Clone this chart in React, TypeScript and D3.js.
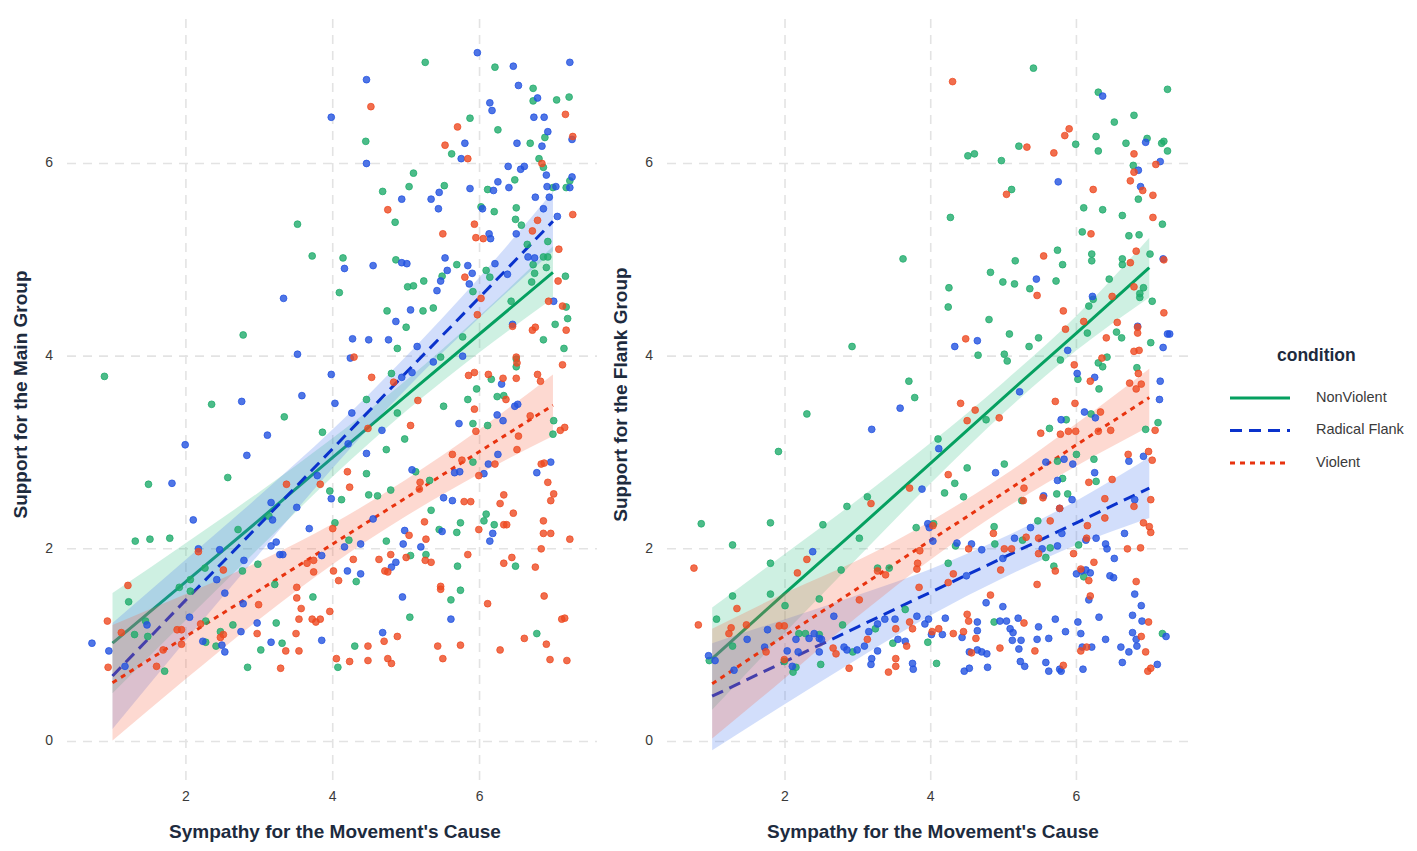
import { useEffect, useRef } from 'react';
import * as d3 from 'd3';

const WIDTH = 1417;
const HEIGHT = 851;
const FONT = '"Liberation Sans", Arial, Helvetica, sans-serif';

const CONDITIONS = ['NonViolent', 'Radical Flank', 'Violent'];
const LINE_COLORS: Record<string, string> = {
  NonViolent: '#05a060',
  'Radical Flank': '#0a32cc',
  Violent: '#e8330f',
};
const POINT_COLORS: Record<string, string> = {
  NonViolent: '#1fab6c',
  'Radical Flank': '#2352e0',
  Violent: '#ee4a22',
};
const RIBBON_COLORS: Record<string, string> = {
  NonViolent: '#3cc48a',
  'Radical Flank': '#4a7af0',
  Violent: '#f86848',
};
const DASHES: Record<string, string | null> = {
  NonViolent: null,
  'Radical Flank': '12,7',
  Violent: '5,5',
};

const X_TICKS = [2, 4, 6];
const Y_TICKS = [0, 2, 4, 6];
const X_TITLE = "Sympathy for the Movement's Cause";

// x positions where the fitted lines and bands are read
const FIT_X = [1, 2, 3, 4, 5, 6, 7];

// ---- Support for the Main Group ----
const MAIN_NV_FIT = [1.02, 1.66, 2.3, 2.95, 3.59, 4.23, 4.87];
const MAIN_NV_LO = [0.5, 1.26, 2.01, 2.75, 3.43, 4.04, 4.6];
const MAIN_NV_HI = [1.54, 2.06, 2.59, 3.15, 3.75, 4.42, 5.14];
const MAIN_RF_FIT = [0.68, 1.47, 2.25, 3.04, 3.83, 4.61, 5.4];
const MAIN_RF_LO = [0.13, 1.05, 1.95, 2.84, 3.66, 4.4, 5.09];
const MAIN_RF_HI = [1.23, 1.89, 2.55, 3.24, 4.0, 4.82, 5.71];
const MAIN_V_FIT = [0.61, 1.09, 1.57, 2.05, 2.53, 3.01, 3.49];
const MAIN_V_LO = [0.01, 0.65, 1.27, 1.84, 2.34, 2.78, 3.17];
const MAIN_V_HI = [1.21, 1.53, 1.87, 2.26, 2.72, 3.24, 3.81];

const MAIN_NV_POINTS: [number, number][] = [
  [5.26, 7.05], [6.21, 7.0], [6.73, 6.78], [6.73, 6.65], [7.05, 6.66], [7.22, 6.69], [5.87, 6.47], [6.25, 6.35],
  [6.89, 6.27], [4.45, 6.23], [6.69, 6.21], [5.62, 6.1], [6.81, 6.05], [6.87, 5.96], [5.1, 5.9], [6.48, 5.83],
  [7.23, 5.82], [5.52, 5.77], [6.11, 5.73], [7.0, 5.75], [7.18, 5.75], [5.04, 5.76], [4.68, 5.71], [6.02, 5.55],
  [6.2, 5.5], [6.5, 5.54], [4.85, 5.39], [6.49, 5.42], [6.57, 5.36], [6.65, 5.16], [6.93, 5.19], [3.52, 5.37],
  [3.72, 5.04], [4.14, 5.02], [4.86, 5.0], [6.87, 5.03], [6.93, 5.03], [5.69, 4.95], [6.73, 4.95], [6.91, 4.92],
  [5.49, 4.83], [6.09, 4.89], [6.14, 4.82], [6.75, 4.86], [6.71, 4.77], [7.17, 4.83], [5.24, 4.78], [5.02, 4.72],
  [5.1, 4.73], [4.09, 4.66], [5.91, 4.67], [6.43, 4.57], [7.18, 4.51], [4.74, 4.47], [5.23, 4.47], [5.37, 4.5],
  [5.0, 4.3], [7.2, 4.39], [7.03, 4.33], [6.87, 4.17], [4.88, 4.08], [2.78, 4.22], [5.77, 4.2], [7.15, 4.08],
  [5.47, 3.99], [6.5, 3.97], [6.5, 3.89], [0.89, 3.79], [4.8, 3.82], [6.16, 3.76], [5.96, 3.66], [2.35, 3.5],
  [3.34, 3.37], [4.46, 3.55], [5.84, 3.55], [5.51, 3.48], [6.24, 3.58], [6.33, 3.59], [7.01, 3.33], [5.91, 3.3],
  [6.11, 3.28], [4.88, 3.41], [7.0, 3.19], [4.98, 3.14], [4.73, 3.03], [3.86, 3.21], [2.57, 2.74], [1.49, 2.67],
  [4.46, 2.78], [3.96, 2.6], [4.12, 2.51], [4.49, 2.56], [4.61, 2.55], [4.79, 2.61], [5.91, 2.9], [5.13, 2.8],
  [5.32, 2.71], [5.34, 2.4], [5.45, 2.2], [5.74, 2.27], [5.69, 2.17], [6.09, 2.36], [6.06, 2.29], [6.2, 2.25],
  [5.06, 1.93], [5.27, 1.94], [5.7, 1.82], [6.49, 1.82], [5.74, 1.57], [5.61, 1.47], [5.05, 1.29], [6.78, 1.12],
  [4.3, 0.99], [4.07, 0.77], [3.73, 1.5], [3.31, 1.02], [3.23, 1.23], [3.02, 0.95], [2.84, 0.77], [2.64, 1.21],
  [2.77, 1.77], [2.98, 1.84], [2.26, 1.8], [2.27, 1.25], [2.27, 1.03], [1.91, 1.6], [2.06, 1.68], [2.06, 1.56],
  [1.31, 2.08], [1.51, 2.1], [1.78, 2.11], [2.71, 2.2], [3.13, 2.34], [3.21, 1.63], [4.03, 2.27], [4.22, 2.09],
  [4.32, 1.66], [4.73, 2.08], [1.45, 1.25], [1.48, 1.09], [1.3, 1.11], [1.22, 1.45], [1.71, 0.73], [2.47, 1.14],
  [2.41, 0.99],
];
const MAIN_RF_POINTS: [number, number][] = [
  [5.97, 7.15], [6.46, 7.01], [7.23, 7.05], [4.46, 6.87], [6.53, 6.81], [6.79, 6.68], [6.14, 6.63], [6.17, 6.55],
  [3.98, 6.48], [6.74, 6.48], [6.88, 6.48], [6.93, 6.33], [7.26, 6.25], [5.8, 6.21], [6.51, 6.21], [6.85, 6.18],
  [5.75, 6.05], [4.46, 6.0], [6.39, 5.97], [6.56, 5.94], [6.61, 5.97], [6.91, 5.88], [7.26, 5.86], [6.25, 5.81],
  [6.19, 5.72], [5.87, 5.74], [6.4, 5.75], [6.92, 5.76], [7.04, 5.76], [7.23, 5.75], [4.94, 5.63], [5.45, 5.7],
  [5.34, 5.63], [6.76, 5.65], [6.95, 5.65], [5.44, 5.53], [6.04, 5.53], [6.87, 5.53], [7.06, 5.45], [6.5, 5.27],
  [6.13, 5.27], [6.15, 5.22], [4.16, 4.91], [4.55, 4.94], [4.94, 4.97], [5.01, 4.96], [5.53, 5.02], [6.66, 5.03],
  [6.75, 5.02], [5.84, 4.94], [6.21, 4.96], [5.56, 4.89], [5.9, 4.86], [6.38, 4.85], [5.47, 4.78], [5.86, 4.75],
  [3.33, 4.6], [5.42, 4.68], [7.01, 4.57], [5.06, 4.48], [4.86, 4.36], [6.45, 4.33], [4.27, 4.18], [4.49, 4.17],
  [4.76, 4.17], [4.24, 3.98], [3.52, 4.02], [5.15, 4.1], [5.77, 4.0], [5.37, 3.94], [3.98, 3.81], [4.94, 3.78],
  [5.08, 3.83], [6.3, 3.71], [2.76, 3.53], [3.58, 3.59], [4.03, 3.51], [6.52, 3.5], [6.48, 3.48], [6.24, 3.39],
  [6.32, 3.33], [5.72, 3.3], [4.26, 3.41], [4.67, 3.23], [3.11, 3.18], [1.99, 3.08], [2.83, 2.97], [4.21, 3.09],
  [4.46, 2.99], [1.81, 2.68], [3.79, 2.76], [3.98, 2.52], [6.06, 2.78], [6.12, 2.88], [6.25, 2.98], [6.97, 2.9],
  [6.78, 2.79], [5.08, 2.82], [5.66, 2.79], [5.73, 2.8], [5.51, 2.53], [5.63, 2.5], [5.49, 2.18], [6.18, 2.16],
  [6.14, 2.08], [4.96, 2.05], [4.98, 2.19], [5.2, 2.02], [4.95, 1.5], [5.61, 1.27], [4.68, 1.13], [3.85, 1.05],
  [3.16, 1.03], [2.97, 1.23], [2.75, 1.14], [2.78, 1.43], [2.79, 1.88], [2.53, 1.54], [2.42, 1.68], [2.46, 1.99],
  [2.17, 2.0], [2.23, 1.04], [2.05, 1.29], [2.1, 2.3], [3.16, 2.48], [3.18, 2.3], [3.16, 2.03], [3.23, 2.07],
  [3.28, 1.94], [3.32, 1.94], [3.51, 2.43], [3.68, 2.21], [3.85, 1.93], [4.16, 2.02], [4.2, 1.77], [4.38, 1.74],
  [4.38, 2.05], [4.8, 1.81], [4.86, 1.86], [4.55, 2.31], [1.47, 1.21], [0.72, 1.02], [0.95, 0.94], [1.17, 0.78],
  [2.49, 1.0], [2.53, 0.93],
];
const MAIN_V_POINTS: [number, number][] = [
  [4.52, 6.59], [5.7, 6.38], [7.17, 6.51], [7.27, 6.28], [5.53, 6.19], [5.84, 6.05], [6.85, 6.0], [4.75, 5.52],
  [7.27, 5.47], [5.93, 5.37], [6.79, 5.41], [6.72, 5.3], [5.5, 5.27], [5.95, 5.23], [6.05, 5.22], [7.08, 5.11],
  [5.8, 4.82], [7.07, 4.78], [6.02, 4.6], [6.94, 4.57], [7.13, 4.52], [5.97, 4.43], [6.45, 4.31], [6.72, 4.27],
  [6.76, 4.3], [7.18, 4.27], [4.29, 3.99], [7.13, 3.91], [6.5, 3.99], [6.51, 3.93], [4.53, 3.78], [4.83, 3.73],
  [5.85, 3.8], [5.93, 3.83], [6.12, 3.81], [6.32, 3.77], [6.5, 3.77], [6.79, 3.81], [6.83, 3.74], [5.16, 3.54],
  [6.36, 3.55], [5.93, 3.45], [6.69, 3.38], [5.06, 3.28], [7.16, 3.26], [5.95, 3.22], [7.1, 3.23], [4.48, 3.25],
  [3.37, 2.67], [3.83, 2.67], [4.2, 2.8], [4.23, 2.64], [5.63, 2.98], [5.76, 2.92], [5.99, 2.76], [6.21, 2.88],
  [6.51, 3.03], [6.53, 3.17], [6.84, 2.88], [6.88, 2.89], [6.93, 2.69], [7.01, 2.57], [6.97, 2.5], [5.19, 2.69],
  [5.18, 2.62], [5.79, 2.49], [5.88, 2.49], [5.25, 2.28], [5.99, 2.2], [6.33, 2.25], [6.37, 2.25], [6.46, 2.37],
  [6.28, 2.47], [6.33, 2.56], [6.87, 2.29], [6.87, 2.16], [6.97, 2.16], [7.23, 2.1], [5.04, 2.14], [5.27, 2.1],
  [5.26, 1.88], [5.34, 1.86], [5.0, 1.91], [5.84, 1.94], [6.33, 1.85], [6.44, 1.91], [6.76, 1.81], [6.84, 2.0],
  [5.47, 1.61], [5.47, 1.58], [6.11, 1.43], [6.88, 1.51], [7.12, 1.27], [7.16, 1.28], [6.61, 1.07], [6.91, 1.01],
  [6.28, 0.95], [5.74, 1.0], [5.43, 0.99], [5.5, 0.86], [6.96, 0.85], [7.19, 0.84], [4.7, 1.04], [4.88, 1.09],
  [4.75, 0.86], [4.8, 0.81], [4.48, 0.99], [4.48, 0.84], [4.23, 0.83], [4.05, 0.86], [3.83, 1.27], [3.72, 1.27],
  [3.77, 1.24], [3.54, 1.27], [3.57, 1.38], [3.51, 1.49], [3.51, 1.6], [3.96, 1.35], [3.5, 1.12], [3.54, 0.94],
  [3.36, 0.94], [3.29, 0.76], [2.97, 1.12], [2.99, 1.42], [2.51, 1.78], [2.17, 1.97], [2.2, 1.22], [1.94, 1.16],
  [1.88, 1.16], [1.94, 1.01], [3.65, 1.85], [3.74, 1.88], [3.74, 1.76], [4.0, 2.21], [4.28, 1.89], [4.08, 1.67],
  [4.01, 1.77], [4.63, 1.89], [4.79, 1.94], [4.71, 1.77], [4.75, 1.76], [1.12, 1.13], [1.21, 1.62], [0.93, 1.25],
  [0.94, 0.77], [1.6, 0.78], [1.69, 0.95], [2.47, 1.08], [2.51, 1.11],
];

// ---- Support for the Flank Group ----
const FLANK_NV_FIT = [0.86, 1.54, 2.21, 2.89, 3.57, 4.24, 4.92];
const FLANK_NV_LO = [0.33, 1.13, 1.91, 2.68, 3.41, 4.06, 4.61];
const FLANK_NV_HI = [1.39, 1.95, 2.51, 3.1, 3.73, 4.42, 5.23];
const FLANK_RF_FIT = [0.47, 0.83, 1.19, 1.55, 1.91, 2.27, 2.63];
const FLANK_RF_LO = [-0.09, 0.39, 0.86, 1.31, 1.7, 2.04, 2.32];
const FLANK_RF_HI = [1.02, 1.27, 1.52, 1.79, 2.12, 2.5, 2.95];
const FLANK_V_FIT = [0.6, 1.1, 1.59, 2.09, 2.58, 3.08, 3.57];
const FLANK_V_LO = [0.03, 0.66, 1.3, 1.89, 2.41, 2.86, 3.27];
const FLANK_V_HI = [1.17, 1.54, 1.88, 2.29, 2.76, 3.3, 3.87];

const FLANK_NV_POINTS: [number, number][] = [
  [5.41, 6.99], [6.3, 6.74], [7.25, 6.77], [6.52, 6.43], [6.79, 6.5], [6.27, 6.28], [6.3, 6.13], [6.68, 6.21],
  [6.97, 6.26], [7.17, 6.21], [7.2, 6.23], [7.25, 6.13], [5.21, 6.18], [5.99, 6.2], [4.51, 6.08], [4.6, 6.1],
  [4.97, 6.03], [6.78, 5.98], [6.85, 5.63], [5.11, 5.73], [6.1, 5.54], [6.36, 5.52], [6.63, 5.46], [7.18, 5.37],
  [4.27, 5.44], [6.08, 5.29], [6.72, 5.25], [6.86, 5.26], [7.01, 5.06], [5.74, 5.1], [6.21, 5.06], [6.21, 4.99],
  [5.16, 4.99], [5.81, 4.95], [6.63, 5.01], [6.63, 4.95], [3.62, 5.01], [4.82, 4.87], [4.99, 4.77], [5.15, 4.75],
  [5.36, 4.7], [5.72, 4.78], [4.25, 4.71], [6.45, 4.8], [6.92, 4.71], [6.87, 4.65], [6.87, 4.61], [7.04, 4.57],
  [6.23, 4.59], [6.17, 4.52], [4.24, 4.51], [4.8, 4.38], [6.55, 4.25], [6.15, 4.24], [5.08, 4.23], [5.48, 4.19],
  [6.62, 4.19], [7.02, 4.14], [2.92, 4.1], [4.65, 4.01], [5.01, 4.02], [5.05, 3.95], [5.35, 4.1], [5.78, 3.96],
  [6.42, 3.99], [6.3, 3.93], [6.36, 3.89], [6.02, 3.76], [6.83, 3.88], [6.31, 3.66], [3.7, 3.74], [3.78, 3.57],
  [2.3, 3.4], [4.76, 3.34], [5.86, 3.34], [6.2, 3.4], [7.12, 3.31], [5.63, 3.25], [6.95, 3.24], [1.91, 3.01],
  [4.1, 3.14], [4.33, 2.68], [4.5, 2.84], [5.01, 2.88], [4.19, 2.58], [4.45, 2.54], [2.85, 2.44], [3.13, 2.54],
  [3.02, 2.11], [2.52, 2.25], [0.85, 2.26], [1.8, 2.27], [1.28, 2.04], [1.8, 1.85], [1.8, 1.53], [1.28, 1.51],
  [1.06, 1.27], [1.28, 0.99], [0.96, 0.84], [1.99, 0.83], [2.11, 0.72], [2.15, 0.77], [2.19, 1.12], [2.28, 1.12],
  [2.47, 1.11], [2.49, 0.8], [2.47, 1.48], [2.0, 1.41], [2.77, 1.78], [2.79, 1.21], [2.93, 0.93], [3.24, 1.17],
  [3.48, 1.02], [3.65, 1.37], [3.27, 1.8], [3.43, 1.8], [3.8, 2.22], [4.04, 2.26], [3.96, 1.03], [4.08, 0.81],
  [4.24, 1.85], [4.34, 2.03], [4.87, 2.23], [4.88, 2.05], [5.25, 2.5], [5.26, 2.09], [5.47, 2.29], [5.58, 1.91],
  [5.64, 2.01], [5.69, 1.82], [5.73, 2.57], [5.74, 2.91], [5.81, 2.73], [6.0, 2.98], [5.88, 2.57], [6.03, 2.04],
  [6.1, 1.71], [6.27, 2.7], [6.24, 2.93], [7.18, 1.12], [4.87, 1.24],
];
const FLANK_RF_POINTS: [number, number][] = [
  [6.36, 6.7], [6.95, 6.22], [6.85, 5.93], [7.15, 6.02], [5.75, 5.81], [6.88, 5.76], [7.19, 5.01], [5.45, 4.8],
  [6.22, 4.62], [6.84, 4.31], [4.64, 4.16], [7.25, 4.23], [7.28, 4.23], [7.19, 4.09], [4.33, 4.1], [5.88, 4.06],
  [6.01, 3.82], [6.25, 3.78], [7.15, 3.74], [3.58, 3.46], [7.14, 3.55], [5.22, 3.63], [5.79, 3.34], [6.11, 3.42],
  [6.26, 3.36], [3.19, 3.24], [4.11, 3.04], [4.89, 2.79], [3.88, 2.62], [1.48, 1.06], [0.95, 0.89], [1.04, 0.84],
  [1.3, 0.74], [1.76, 1.16], [1.72, 0.98], [2.03, 0.94], [2.1, 0.78], [2.18, 0.93], [2.15, 1.06], [2.33, 1.07],
  [2.4, 1.12], [2.47, 1.07], [2.5, 1.06], [2.47, 0.93], [2.38, 1.97], [2.67, 1.3], [2.81, 0.98], [2.85, 0.95],
  [2.99, 0.95], [3.09, 0.99], [3.15, 1.14], [3.19, 0.86], [3.18, 0.8], [3.27, 1.22], [3.27, 0.94], [3.37, 1.27],
  [3.51, 1.27], [3.55, 1.06], [3.65, 1.04], [3.75, 0.81], [3.76, 0.75], [3.81, 1.3], [3.96, 2.26], [4.03, 2.08],
  [3.98, 2.22], [4.01, 1.11], [3.97, 1.27], [3.92, 1.22], [4.16, 1.11], [4.2, 1.28], [4.36, 2.06], [4.56, 2.05],
  [4.49, 1.72], [4.64, 1.24], [4.64, 1.15], [4.43, 1.08], [4.53, 0.93], [4.64, 0.95], [4.7, 0.93], [4.77, 0.91],
  [4.46, 0.73], [4.53, 0.76], [4.78, 0.77], [4.7, 1.99], [4.76, 1.44], [4.99, 1.4], [4.99, 1.9], [5.15, 2.11],
  [5.37, 2.22], [5.53, 2.0], [5.74, 2.03], [5.55, 2.55], [5.77, 2.42], [5.8, 2.16], [5.58, 2.9], [5.74, 2.71],
  [5.83, 2.93], [5.95, 2.88], [5.94, 2.51], [6.0, 1.74], [6.07, 1.77], [6.13, 1.78], [6.19, 1.75], [6.25, 2.79],
  [6.13, 2.09], [6.27, 2.11], [6.4, 2.05], [6.42, 2.0], [6.52, 1.9], [6.46, 1.72], [6.51, 1.7], [6.17, 1.47],
  [6.31, 1.29], [6.66, 2.16], [6.8, 2.51], [6.72, 2.91], [6.92, 2.96], [6.8, 1.53], [6.89, 1.41], [6.77, 1.31],
  [6.9, 1.25], [6.77, 1.13], [6.82, 1.06], [6.83, 0.99], [6.72, 0.93], [6.61, 0.98], [6.63, 0.82], [7.11, 0.8],
  [7.23, 1.09], [6.4, 1.06], [6.08, 0.98], [6.21, 0.98], [6.06, 1.12], [6.02, 1.24], [6.09, 0.75], [5.85, 1.14],
  [5.71, 1.27], [5.62, 1.07], [5.48, 1.19], [5.46, 1.06], [5.58, 0.82], [5.62, 0.73], [5.77, 0.75], [5.79, 0.73],
  [5.2, 1.28], [5.24, 1.05], [5.13, 1.13], [5.09, 1.17], [5.21, 0.96], [5.23, 0.83], [5.29, 0.78], [5.12, 1.05],
  [4.95, 1.25], [5.04, 1.25],
];
const FLANK_V_POINTS: [number, number][] = [
  [4.3, 6.85], [5.9, 6.36], [5.84, 6.29], [5.32, 6.17], [5.69, 6.11], [6.79, 6.1], [6.79, 5.91], [7.09, 5.99],
  [6.74, 5.82], [6.91, 5.72], [7.05, 5.67], [5.04, 5.68], [6.23, 5.73], [7.05, 5.44], [6.2, 5.27], [6.82, 5.09],
  [5.55, 5.04], [6.74, 4.97], [7.2, 5.0], [5.46, 4.63], [6.79, 4.72], [6.49, 4.62], [5.82, 4.47], [7.2, 4.45],
  [6.1, 4.36], [6.56, 4.35], [6.84, 4.3], [6.84, 4.24], [5.85, 4.28], [4.48, 4.18], [6.41, 4.19], [6.86, 4.06],
  [6.79, 4.05], [6.35, 3.98], [5.97, 3.91], [6.85, 3.82], [6.19, 3.74], [6.73, 3.72], [6.89, 3.71], [6.82, 3.66],
  [4.41, 3.51], [4.61, 3.44], [5.71, 3.53], [5.98, 3.51], [4.94, 3.36], [4.5, 3.33], [6.33, 3.42], [5.51, 3.2],
  [5.78, 3.19], [5.89, 3.22], [5.99, 3.22], [6.3, 3.22], [6.47, 3.23], [7.08, 3.23], [4.24, 2.77], [3.71, 2.63],
  [3.18, 2.47], [0.75, 1.8], [1.34, 1.38], [0.81, 1.21], [1.26, 1.18], [1.23, 1.12], [1.47, 1.21], [1.92, 1.2],
  [1.99, 1.2], [1.74, 0.93], [1.99, 0.85], [2.3, 1.89], [2.17, 1.75], [3.02, 1.47], [2.66, 0.97], [2.7, 0.91],
  [2.88, 0.76], [3.13, 1.06], [3.52, 1.17], [3.67, 0.99], [3.52, 0.86], [3.52, 0.78], [3.42, 0.72], [3.71, 1.24],
  [3.75, 1.17], [3.27, 1.77], [3.38, 1.73], [3.81, 1.79], [3.82, 1.85], [3.84, 1.6], [3.85, 1.98], [4.03, 2.24],
  [4.02, 1.14], [4.11, 1.17], [4.31, 1.12], [4.24, 1.65], [4.31, 1.74], [4.52, 2.0], [4.5, 1.32], [4.52, 1.25],
  [4.45, 1.14], [4.62, 1.07], [4.56, 0.92], [4.86, 2.16], [4.82, 1.52], [4.96, 1.78], [5.01, 2.0], [5.11, 2.0],
  [5.27, 2.5], [5.28, 2.63], [5.31, 2.12], [5.48, 2.11], [5.48, 1.95], [5.64, 2.29], [5.71, 1.77], [5.46, 1.63],
  [5.54, 2.53], [5.77, 2.42], [5.96, 1.95], [6.06, 1.79], [6.17, 1.67], [6.17, 2.69], [6.49, 2.72], [6.39, 2.52],
  [6.39, 2.32], [6.15, 2.24], [6.14, 2.11], [6.24, 1.86], [6.19, 1.51], [6.7, 2.0], [6.88, 2.01], [7.0, 2.23],
  [7.02, 2.17], [6.92, 2.27], [7.02, 2.51], [6.79, 2.44], [6.71, 2.98], [6.99, 3.01], [7.04, 2.92], [6.82, 1.66],
  [6.99, 1.24], [6.89, 1.09], [6.95, 0.93], [6.98, 0.73], [7.02, 0.76], [6.14, 0.98], [6.06, 0.94], [5.43, 0.94],
  [5.82, 0.79], [5.28, 1.23], [4.95, 0.97],
];

interface Fit {
  fit: number[];
  lo: number[];
  hi: number[];
}

interface Panel {
  yTitle: string;
  left: number;
  right: number;
  fits: Record<string, Fit>;
  points: Record<string, [number, number][]>;
}

const PANELS: Panel[] = [
  {
    yTitle: 'Support for the Main Group',
    left: 67,
    right: 597,
    fits: {
      NonViolent: { fit: MAIN_NV_FIT, lo: MAIN_NV_LO, hi: MAIN_NV_HI },
      'Radical Flank': { fit: MAIN_RF_FIT, lo: MAIN_RF_LO, hi: MAIN_RF_HI },
      Violent: { fit: MAIN_V_FIT, lo: MAIN_V_LO, hi: MAIN_V_HI },
    },
    points: {
      NonViolent: MAIN_NV_POINTS,
      'Radical Flank': MAIN_RF_POINTS,
      Violent: MAIN_V_POINTS,
    },
  },
  {
    yTitle: 'Support for the Flank Group',
    left: 667,
    right: 1193,
    fits: {
      NonViolent: { fit: FLANK_NV_FIT, lo: FLANK_NV_LO, hi: FLANK_NV_HI },
      'Radical Flank': { fit: FLANK_RF_FIT, lo: FLANK_RF_LO, hi: FLANK_RF_HI },
      Violent: { fit: FLANK_V_FIT, lo: FLANK_V_LO, hi: FLANK_V_HI },
    },
    points: {
      NonViolent: FLANK_NV_POINTS,
      'Radical Flank': FLANK_RF_POINTS,
      Violent: FLANK_V_POINTS,
    },
  },
];

const PANEL_TOP = 19;
const PANEL_BOTTOM = 780;
const TEXT_DARK = '#1d2b3e';
const TICK_COLOR = '#3a3a3a';
const GRID_COLOR = '#e3e3e3';

export default function App() {
  const svgRef = useRef<SVGSVGElement>(null);

  useEffect(() => {
    document.body.style.margin = '0';
    if (!svgRef.current) return;

    const svg = d3.select(svgRef.current);
    svg.selectAll('*').remove();

    const yScale = d3.scaleLinear().domain([-0.4, 7.5]).range([PANEL_BOTTOM, PANEL_TOP]);

    PANELS.forEach(panel => {
      const xScale = d3.scaleLinear().domain([0.38, 7.6]).range([panel.left, panel.right]);
      const g = svg.append('g');

      // grid
      g.selectAll('.vgrid')
        .data(X_TICKS)
        .enter()
        .append('line')
        .attr('x1', (d: number) => xScale(d))
        .attr('x2', (d: number) => xScale(d))
        .attr('y1', PANEL_TOP)
        .attr('y2', PANEL_BOTTOM)
        .attr('stroke', GRID_COLOR)
        .attr('stroke-width', 1.6)
        .attr('stroke-dasharray', '9,7');
      g.selectAll('.hgrid')
        .data(Y_TICKS)
        .enter()
        .append('line')
        .attr('x1', panel.left)
        .attr('x2', panel.right)
        .attr('y1', (d: number) => yScale(d))
        .attr('y2', (d: number) => yScale(d))
        .attr('stroke', GRID_COLOR)
        .attr('stroke-width', 1.6)
        .attr('stroke-dasharray', '9,7');

      // tick labels
      g.selectAll('.xtick')
        .data(X_TICKS)
        .enter()
        .append('text')
        .attr('x', (d: number) => xScale(d))
        .attr('y', 797)
        .attr('text-anchor', 'middle')
        .attr('dominant-baseline', 'middle')
        .attr('font-size', '14px')
        .attr('fill', TICK_COLOR)
        .text((d: number) => d);
      g.selectAll('.ytick')
        .data(Y_TICKS)
        .enter()
        .append('text')
        .attr('x', panel.left - 14)
        .attr('y', (d: number) => yScale(d))
        .attr('text-anchor', 'end')
        .attr('dominant-baseline', 'middle')
        .attr('font-size', '14px')
        .attr('fill', TICK_COLOR)
        .text((d: number) => d);

      // smooths: ribbon then line, per condition
      CONDITIONS.forEach(cond => {
        const f = panel.fits[cond];
        const band = d3
          .area<number>()
          .x((d: number) => xScale(d))
          .y0((_d: number, i: number) => yScale(f.lo[i]))
          .y1((_d: number, i: number) => yScale(f.hi[i]))
          .curve(d3.curveMonotoneX);
        g.append('path')
          .attr('d', band(FIT_X))
          .attr('fill', RIBBON_COLORS[cond])
          .attr('fill-opacity', 0.25);

        const line = d3
          .line<number>()
          .x((d: number) => xScale(d))
          .y((_d: number, i: number) => yScale(f.fit[i]));
        const path = g
          .append('path')
          .attr('d', line(FIT_X))
          .attr('fill', 'none')
          .attr('stroke', LINE_COLORS[cond])
          .attr('stroke-width', 3);
        if (DASHES[cond]) path.attr('stroke-dasharray', DASHES[cond]);
      });

      // points
      CONDITIONS.forEach(cond => {
        g.selectAll(null)
          .data(panel.points[cond])
          .enter()
          .append('circle')
          .attr('cx', (d: [number, number]) => xScale(d[0]))
          .attr('cy', (d: [number, number]) => yScale(d[1]))
          .attr('r', 3.4)
          .attr('fill', POINT_COLORS[cond])
          .attr('fill-opacity', 0.8)
          .attr('stroke', POINT_COLORS[cond])
          .attr('stroke-opacity', 0.95)
          .attr('stroke-width', 0.8);
      });

      // axis titles
      const midX = (panel.left + panel.right) / 2;
      g.append('text')
        .attr('x', midX + 3)
        .attr('y', 833)
        .attr('text-anchor', 'middle')
        .attr('dominant-baseline', 'middle')
        .attr('font-size', '19px')
        .attr('font-weight', 'bold')
        .attr('fill', TEXT_DARK)
        .text(X_TITLE);
      const midY = (PANEL_TOP + PANEL_BOTTOM) / 2 - 5;
      g.append('text')
        .attr('transform', `translate(${panel.left - 45}, ${midY}) rotate(-90)`)
        .attr('text-anchor', 'middle')
        .attr('dominant-baseline', 'middle')
        .attr('font-size', '19px')
        .attr('font-weight', 'bold')
        .attr('fill', TEXT_DARK)
        .text(panel.yTitle);
    });

    // legend
    const legend = svg.append('g');
    legend
      .append('text')
      .attr('x', 1277)
      .attr('y', 356)
      .attr('dominant-baseline', 'middle')
      .attr('font-size', '17.5px')
      .attr('font-weight', 'bold')
      .attr('fill', TEXT_DARK)
      .text('condition');
    const items = legend
      .selectAll('.item')
      .data(CONDITIONS)
      .enter()
      .append('g')
      .attr('transform', (_d: string, i: number) => `translate(0, ${398 + i * 32.5})`);
    items
      .append('line')
      .attr('x1', 1230)
      .attr('x2', 1290)
      .attr('stroke', (d: string) => LINE_COLORS[d])
      .attr('stroke-width', 3)
      .attr('stroke-dasharray', (d: string) => DASHES[d] ?? null);
    items
      .append('text')
      .attr('x', 1316)
      .attr('dominant-baseline', 'middle')
      .attr('font-size', '14.5px')
      .attr('fill', TICK_COLOR)
      .text((d: string) => d);
  }, []);

  return (
    <svg
      ref={svgRef}
      width={WIDTH}
      height={HEIGHT}
      style={{ display: 'block', background: '#ffffff', fontFamily: FONT }}
    />
  );
}
